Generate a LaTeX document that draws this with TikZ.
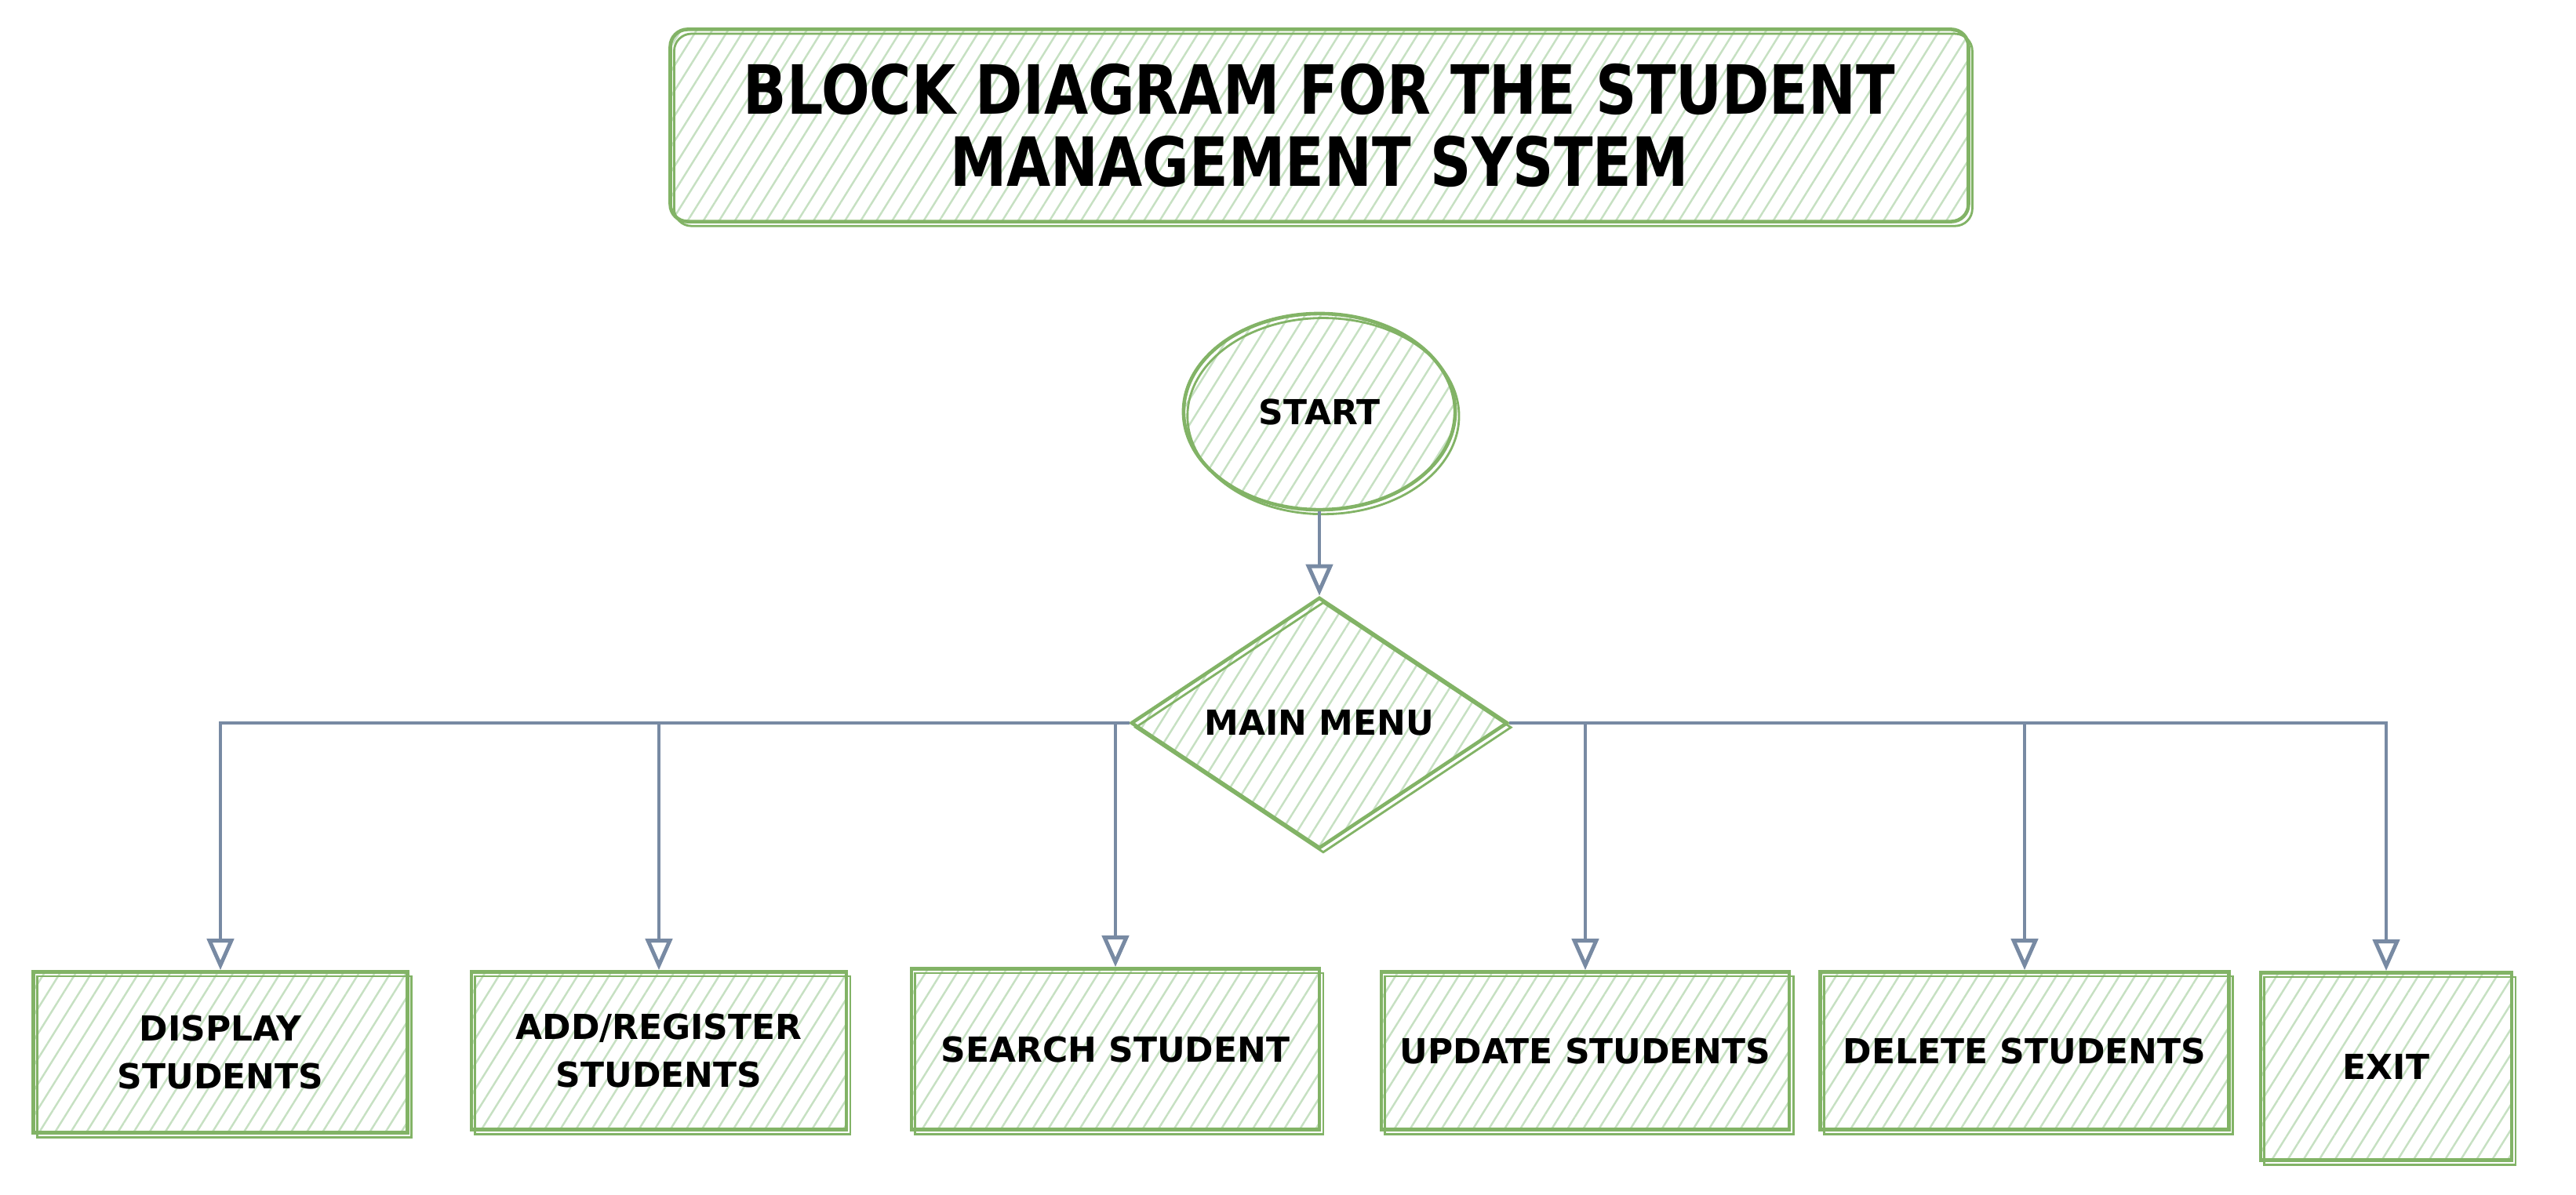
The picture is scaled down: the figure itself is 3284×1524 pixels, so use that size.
\documentclass[tikz,border=0pt]{standalone}
\usepackage{fontspec}
\setmainfont{DejaVu Sans}
\newfontfamily\titlefont{DejaVu Sans}[FakeStretch=0.84]
\usetikzlibrary{shapes.geometric,arrows.meta,patterns.meta}
\definecolor{sgreen}{HTML}{82B366}
\definecolor{hatch}{HTML}{C6E0C2}
\definecolor{slate}{HTML}{788AA3}
\tikzset{
  hatched/.style={pattern={Lines[angle=58,distance=0.17cm,line width=0.7pt]}, pattern color=hatch},
  rough/.style={postaction={draw=sgreen, line width=0.8pt,
      transform canvas={xshift=1.4pt, yshift=-1.6pt}}},
  shapebox/.style={draw=sgreen, line width=1.3pt, hatched, rough, align=center,
      font=\fontsize{12.5}{17.3}\selectfont\bfseries, inner sep=0pt},
  arr/.style={draw=slate, line width=1.4pt,
      -{Triangle[open, length=0.4cm, width=0.34cm, line width=1.4pt]}},
}
\begin{document}
\begin{tikzpicture}[x=0.01cm, y=-0.01cm]
\useasboundingbox (0,0) rectangle (3284,1524);
% title
\node[shapebox, rounded corners=0.22cm, minimum width=16.54cm, minimum height=2.45cm,
      font=\titlefont\fontsize{24.6}{26.2}\selectfont\bfseries] (title) at (1682,160)
      {BLOCK DIAGRAM FOR THE STUDENT\\MANAGEMENT SYSTEM};
% start
\node[shapebox, ellipse, minimum width=3.46cm, minimum height=2.5cm] (start) at (1682,525) {START};
% main menu
\node[shapebox, diamond, aspect=1.5, minimum width=4.8cm, minimum height=3.2cm] (mm) at (1682,922) {MAIN MENU};
% boxes
\node[shapebox, minimum width=4.77cm, minimum height=2.05cm] (b1) at (281,1342) {DISPLAY\\STUDENTS};
\node[shapebox, minimum width=4.78cm, minimum height=2.01cm] (b2) at (840,1340) {ADD/REGISTER\\STUDENTS};
\node[shapebox, minimum width=5.2cm, minimum height=2.05cm] (b3) at (1422,1338) {SEARCH STUDENT};
\node[shapebox, minimum width=5.2cm, minimum height=2.01cm] (b4) at (2021,1340) {UPDATE STUDENTS};
\node[shapebox, minimum width=5.21cm, minimum height=2.01cm] (b5) at (2581,1340) {DELETE STUDENTS};
\node[shapebox, minimum width=3.2cm, minimum height=2.39cm] (b6) at (3042,1360) {EXIT};
% connectors
\draw[arr] (start.south) -- (mm.north);
\draw[arr] (mm.west) -| (b1.north);
\draw[arr] (mm.west) -| (b2.north);
\draw[arr] (mm.west) -| (b3.north);
\draw[arr] (mm.east) -| (b4.north);
\draw[arr] (mm.east) -| (b5.north);
\draw[arr] (mm.east) -| (b6.north);
\end{tikzpicture}
\end{document}
